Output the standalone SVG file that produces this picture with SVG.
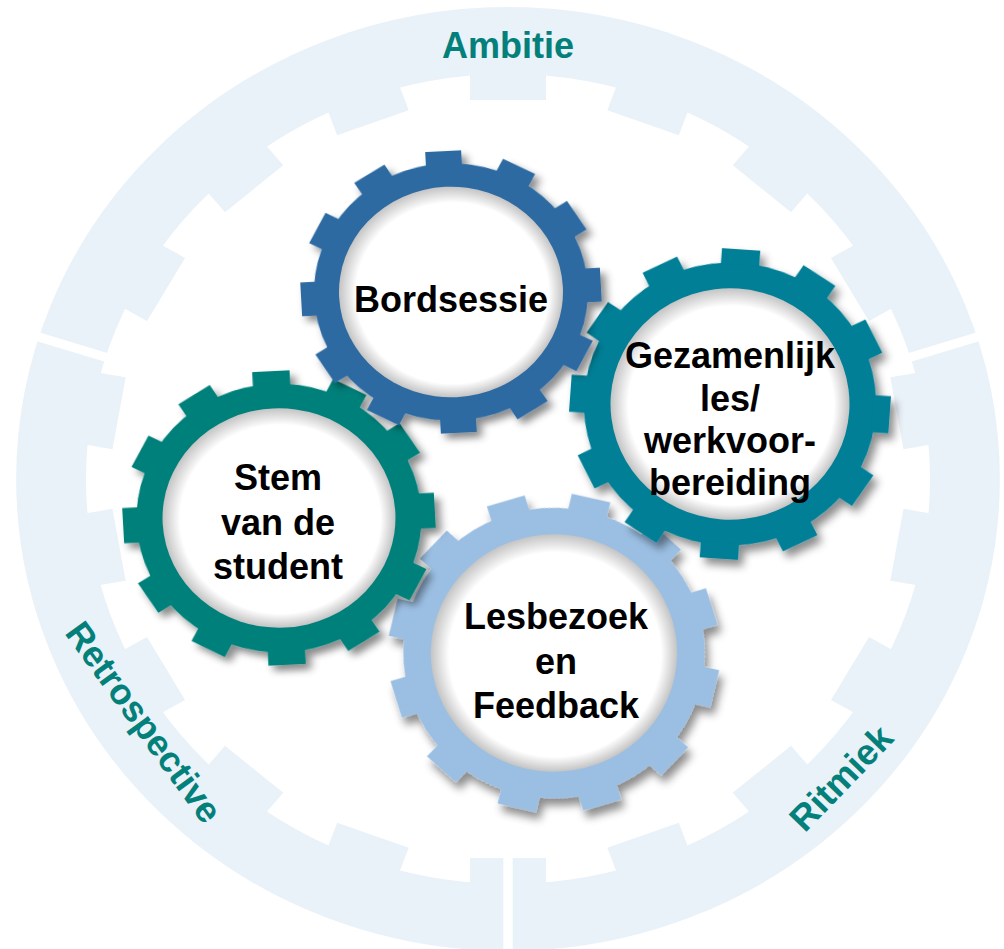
<svg xmlns="http://www.w3.org/2000/svg" xmlns:xlink="http://www.w3.org/1999/xlink" width="1004" height="949" viewBox="0 0 1004 949">
<style>
.lbl{font-family:"Liberation Sans",Arial,sans-serif;font-weight:bold;font-size:36px;fill:#03807A;text-anchor:middle}
.gt{font-family:"Liberation Sans",Arial,sans-serif;font-weight:bold;font-size:36px;fill:#000;text-anchor:middle}
.gap{stroke:#fff;stroke-width:9}
</style>
<defs>
<filter id="shadow" x="-20%" y="-20%" width="140%" height="140%">
<feDropShadow dx="5" dy="6" stdDeviation="4" flood-color="#000" flood-opacity="0.45"/>
</filter>
<radialGradient id="inner" cx="0.5" cy="0.5" r="0.5" fx="0.54" fy="0.54">
<stop offset="0.86" stop-color="#fff"/>
<stop offset="1" stop-color="#c4c4c4"/>
</radialGradient>
<g id="gearShape">
<circle r="137"/>
<rect x="-18" y="-150" width="36" height="16"/>
<rect x="-18" y="-150" width="36" height="16" transform="rotate(30)"/>
<rect x="-18" y="-150" width="36" height="16" transform="rotate(60)"/>
<rect x="-18" y="-150" width="36" height="16" transform="rotate(90)"/>
<rect x="-18" y="-150" width="36" height="16" transform="rotate(120)"/>
<rect x="-18" y="-150" width="36" height="16" transform="rotate(150)"/>
<rect x="-18" y="-150" width="36" height="16" transform="rotate(180)"/>
<rect x="-18" y="-150" width="36" height="16" transform="rotate(210)"/>
<rect x="-18" y="-150" width="36" height="16" transform="rotate(240)"/>
<rect x="-18" y="-150" width="36" height="16" transform="rotate(270)"/>
<rect x="-18" y="-150" width="36" height="16" transform="rotate(300)"/>
<rect x="-18" y="-150" width="36" height="16" transform="rotate(330)"/>
</g>
<rect id="bigTooth" x="-36.5" y="-407" width="73" height="28"/>
</defs>
<rect width="1004" height="949" fill="#fff"/>
<g id="outer-ring" fill="#E9F1F9">
<g transform="translate(508,479) scale(1.042,1)">
<circle r="438.5" fill="none" stroke="#E9F1F9" stroke-width="67"/>
<use href="#bigTooth"/>
<use href="#bigTooth" transform="rotate(20)"/>
<use href="#bigTooth" transform="rotate(40)"/>
<use href="#bigTooth" transform="rotate(60)"/>
<use href="#bigTooth" transform="rotate(80)"/>
<use href="#bigTooth" transform="rotate(100)"/>
<use href="#bigTooth" transform="rotate(120)"/>
<use href="#bigTooth" transform="rotate(140)"/>
<use href="#bigTooth" transform="rotate(160)"/>
<use href="#bigTooth" transform="rotate(180)"/>
<use href="#bigTooth" transform="rotate(200)"/>
<use href="#bigTooth" transform="rotate(220)"/>
<use href="#bigTooth" transform="rotate(240)"/>
<use href="#bigTooth" transform="rotate(260)"/>
<use href="#bigTooth" transform="rotate(280)"/>
<use href="#bigTooth" transform="rotate(300)"/>
<use href="#bigTooth" transform="rotate(320)"/>
<use href="#bigTooth" transform="rotate(340)"/>
<line class="gap" x1="0" y1="-360" x2="0" y2="-480" transform="rotate(180)"/>
<line class="gap" x1="0" y1="-360" x2="0" y2="-480" transform="rotate(287.5)"/>
<line class="gap" x1="0" y1="-360" x2="0" y2="-480" transform="rotate(72.5)"/>
</g>
</g>
<g id="label-ambitie"><text class="lbl" x="508" y="58">Ambitie</text></g>
<g id="label-retrospective"><text class="lbl" transform="translate(144,722) rotate(54)" x="0" y="12.5" font-size="35">Retrospective</text></g>
<g id="label-ritmiek"><text class="lbl" transform="translate(841,778) rotate(-46)" x="0" y="12.5" font-size="35">Ritmiek</text></g>

<g id="gear-lesbezoek">
<g transform="translate(554,653) scale(1.1,1.06) rotate(13)">
<use href="#gearShape" fill="#9BBFE3" filter="url(#shadow)"/>
<circle r="112" fill="url(#inner)"/>
</g>
<text class="gt" x="556" y="629">Lesbezoek</text>
<text class="gt" x="556" y="674">en</text>
<text class="gt" x="556" y="718">Feedback</text>
</g>

<g id="gear-stem">
<g transform="translate(279,518) scale(1.04,0.98) rotate(-3)">
<use href="#gearShape" fill="#03807A" filter="url(#shadow)"/>
<circle r="112" fill="url(#inner)"/>
</g>
<text class="gt" x="278" y="490">Stem</text>
<text class="gt" x="278" y="535">van de</text>
<text class="gt" x="278" y="579">student</text>
</g>

<g id="gear-gezamenlijk">
<g transform="translate(730,404) scale(1.067,1.033) rotate(4)">
<use href="#gearShape" fill="#027F96" filter="url(#shadow)"/>
<circle r="112" fill="url(#inner)"/>
</g>
<text class="gt" x="730" y="368">Gezamenlijk</text>
<text class="gt" x="730" y="410.5">les/</text>
<text class="gt" x="730" y="453">werkvoor-</text>
<text class="gt" x="730" y="495">bereiding</text>
</g>

<g id="gear-bordsessie">
<g transform="translate(451,292) scale(1,0.94) rotate(-3)">
<use href="#gearShape" fill="#2E6AA2" filter="url(#shadow)"/>
<circle r="112" fill="url(#inner)"/>
</g>
<text class="gt" x="451" y="312">Bordsessie</text>
</g>
</svg>
